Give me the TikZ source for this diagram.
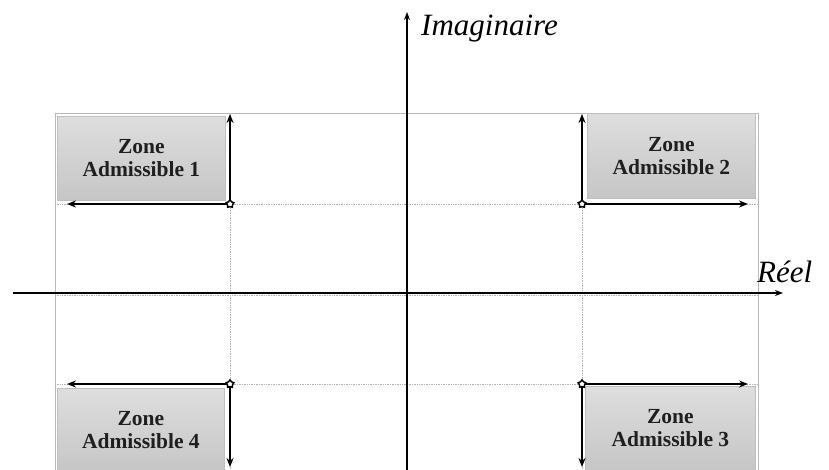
\documentclass[tikz,border=0pt]{standalone}
\usepackage{fontspec}
\setmainfont{Liberation Serif}
\usetikzlibrary{shapes.geometric,arrows.meta}
\begin{document}
\begin{tikzpicture}[x=1pt,y=-1pt,
  zonebox/.style={draw=gray!50, line width=0.8pt, top color=gray!26, bottom color=gray!45,
    anchor=north west, font=\fontsize{21.5}{23}\selectfont\bfseries, text=black!88,
    align=center, inner sep=0pt},
  gridline/.style={gray!60, densely dotted, line width=0.7pt},
  frameline/.style={gray!55, line width=0.8pt},
  axisline/.style={black, line width=1.5pt, -{Stealth[length=8pt,width=6pt]}},
  zarrow/.style={black, line width=2pt, -{Stealth[length=9pt,width=7pt]}},
  starmark/.style={star, star points=5, draw=black, fill=white, line width=1.5pt, minimum size=8pt, inner sep=0pt},
  axislabel/.style={font=\itshape\fontsize{31}{33}\selectfont, inner sep=0pt}]
\useasboundingbox (0,0) rectangle (829,470);
% frame
\draw[frameline] (55,470) -- (55,113) -- (758,113) -- (758,470);
% dotted grid
\draw[gridline] (55,204) -- (758,204);
\draw[gridline] (55,384) -- (758,384);
\draw[gridline] (55,295) -- (758,295);
\draw[gridline] (230,113) -- (230,470);
\draw[gridline] (582,113) -- (582,470);
% boxes
\node[zonebox, minimum width=168pt, minimum height=84pt] (z1) at (57,116) {Zone\\Admissible 1};
\node[zonebox, minimum width=168pt, minimum height=85pt] (z2) at (587,113) {Zone\\Admissible 2};
\node[zonebox, minimum width=167pt, minimum height=84pt] (z4) at (57,388) {Zone\\Admissible 4};
\node[zonebox, minimum width=170pt, minimum height=84pt] (z3) at (585,386) {Zone\\Admissible 3};
% axes
\coordinate (xs) at (13,293);
\coordinate (xe) at (783,293);
\coordinate (ys) at (407,470);
\coordinate (ye) at (407,12);
\draw[axisline] (xs) -- (xe);
\draw[axisline] (ys) -- (ye);
\node[axislabel, anchor=base west] (im) at (421,36) {Imaginaire};
\node[axislabel, anchor=base west] (re) at (757,282) {Réel};
% corner markers and arrows
\coordinate (c1) at (230,204);
\coordinate (c2) at (582,204);
\coordinate (c4) at (230,384);
\coordinate (c3) at (582,384);
\coordinate (c1u) at (230,114);
\coordinate (c1l) at (67,204);
\coordinate (c2u) at (582,114);
\coordinate (c2r) at (748,204);
\coordinate (c4l) at (67,384);
\coordinate (c4d) at (230,467);
\coordinate (c3r) at (748,384);
\coordinate (c3d) at (582,467);
\draw[zarrow] (c1) -- (c1u);
\draw[zarrow] (c1) -- (c1l);
\draw[zarrow] (c2) -- (c2u);
\draw[zarrow] (c2) -- (c2r);
\draw[zarrow] (c4) -- (c4l);
\draw[zarrow] (c4) -- (c4d);
\draw[zarrow] (c3) -- (c3r);
\draw[zarrow] (c3) -- (c3d);
\node[starmark] (m1) at (c1) {};
\node[starmark] (m2) at (c2) {};
\node[starmark] (m4) at (c4) {};
\node[starmark] (m3) at (c3) {};
\end{tikzpicture}
\end{document}
